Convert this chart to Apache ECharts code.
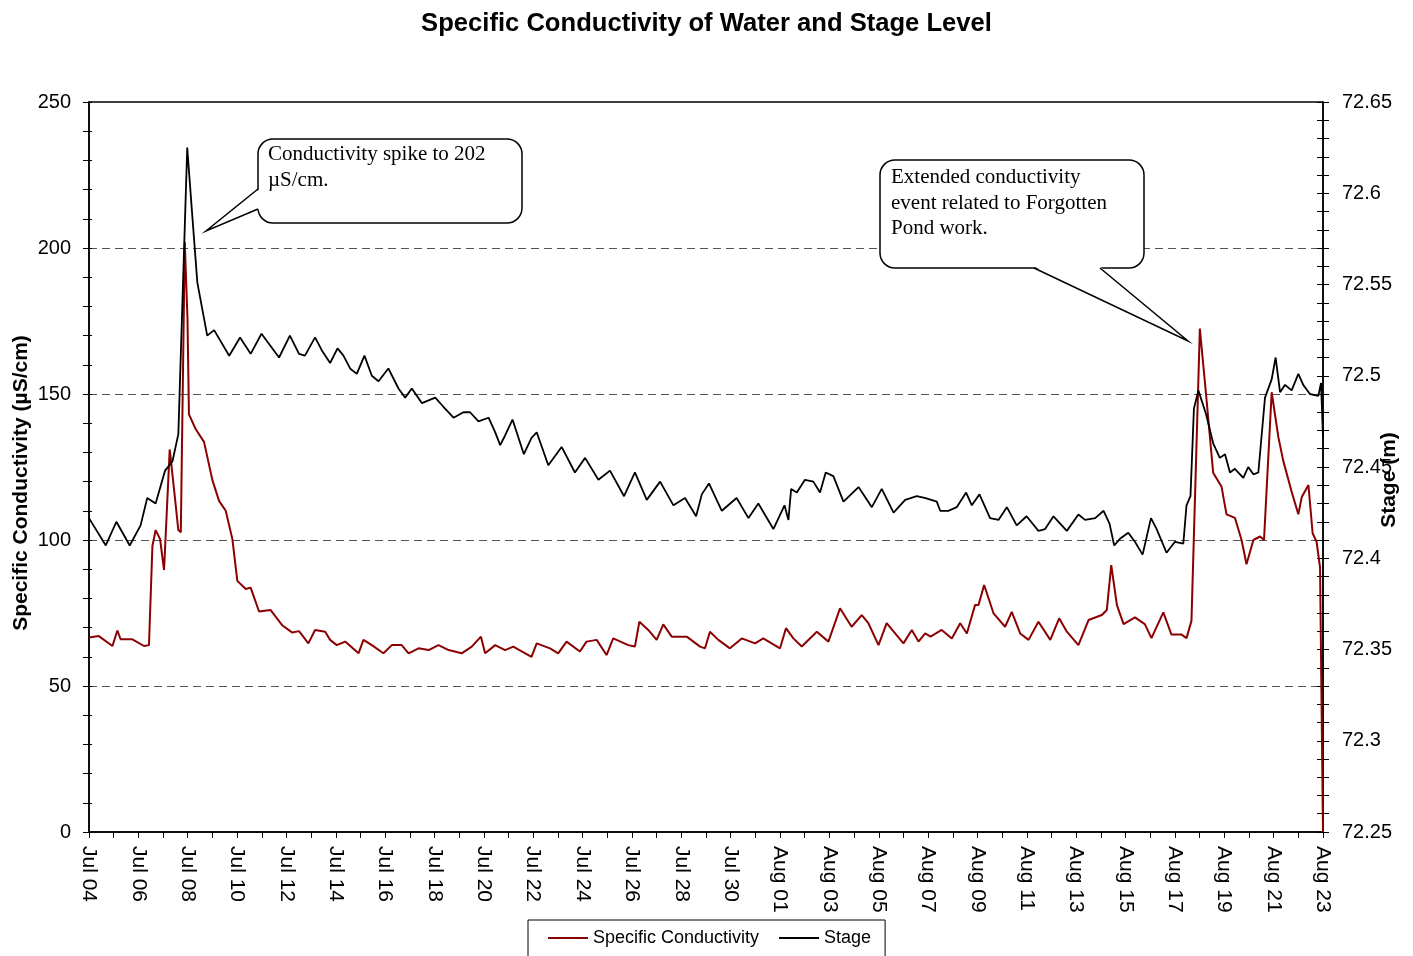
<!DOCTYPE html>
<html>
<head>
<meta charset="utf-8">
<script src="https://cdn.jsdelivr.net/npm/echarts@6/dist/echarts.min.js"></script>
<style>
  html, body { margin: 0; padding: 0; background: #fff; }
  #chart { width: 1413px; height: 956px; }
</style>
</head>
<body>
<div id="chart"></div>
<script>
// days counted from Jul 04 00:00
const condDays = [
  0, 0.4, 0.95, 1.15, 1.28, 1.76, 2.23, 2.43, 2.57, 2.7, 2.88, 3.04, 3.14, 3.27, 3.45, 3.62, 3.72, 3.88,
  3.99, 4.05, 4.32, 4.66, 5.0, 5.27, 5.54, 5.81, 6.01, 6.35, 6.55, 6.89, 7.36, 7.84, 8.24, 8.51,
  8.89, 9.16, 9.57, 9.77, 10.04, 10.38, 10.92, 11.12, 11.46, 11.93, 12.27, 12.67, 12.95, 13.35,
  13.76, 14.16, 14.57, 15.1, 15.51, 15.88, 16.05, 16.46, 16.86, 17.19, 17.93, 18.14, 18.68, 19.01,
  19.35, 19.89, 20.16, 20.57, 20.97, 21.24, 21.85, 22.12, 22.3, 22.66, 23.0, 23.27, 23.61, 24.22,
  24.76, 24.96, 25.16, 25.5, 25.97, 26.45, 26.99, 27.32, 28.0, 28.24, 28.54, 28.88, 29.49, 29.96,
  30.43, 30.9, 31.31, 31.58, 31.99, 32.32, 33.0, 33.34, 33.61, 33.88, 34.1, 34.55, 34.96, 35.3,
  35.57, 35.9, 36.04, 36.27, 36.65, 37.12, 37.39, 37.73, 38.07, 38.47, 38.95, 39.31, 39.62, 40.09,
  40.5, 41.04, 41.24, 41.42, 41.65, 41.92, 42.38, 42.78, 43.05, 43.53, 43.86, 44.27, 44.47, 44.67,
  45.01, 45.26, 45.55, 45.89, 46.09, 46.43, 46.7, 46.9, 47.18, 47.45, 47.61, 47.92, 48.19, 48.39,
  48.73, 49.0, 49.14, 49.41, 49.58, 49.74, 49.88, 50.0
];
const condValues = [
  66.6, 67.1, 63.7, 69, 66, 66, 63.7, 64, 98, 103.4, 100.3, 89.7, 107.5, 131, 117, 103.4, 102.7, 202,
  176, 143, 138, 133.6, 120.5, 113.4, 110, 100.3, 86, 83.2, 83.7, 75.5, 76, 70.7, 68.3, 68.8,
  64.6, 69.2, 68.6, 65.8, 64, 65.2, 61.2, 65.8, 64, 61.2, 64, 64, 61.2, 62.9,
  62.3, 64, 62.3, 61.2, 63.5, 66.9, 61.2, 64, 62.3, 63.5, 60, 64.6, 62.9, 61.2,
  65.2, 61.8, 65.2, 65.8, 60.6, 66.3, 64, 63.5, 72, 69.2, 65.8, 71.1, 66.9, 66.9,
  63.5, 62.9, 68.6, 65.8, 62.9, 66.3, 64.6, 66.3, 62.9, 69.8, 66.3, 63.5, 68.6, 65.2,
  76.6, 70.3, 74.3, 71.5, 64, 71.5, 64.6, 69.2, 65.2, 68, 66.9, 69.2, 66.3, 71.5,
  68, 77.7, 77.7, 84.6, 74.9, 70.3, 75.4, 68, 65.8, 72, 65.8, 73.2, 68.6, 64,
  72.6, 74.3, 76, 91.4, 77.7, 71.2, 73.5, 71.2, 66.4, 75.2, 67.6, 67.6, 66.4, 72.3,
  172.4, 150, 123, 118.2, 108.8, 107.6, 100, 91.7, 100, 101.2, 100, 150.6, 135.3, 127.1,
  116.5, 108.8, 114.7, 118.8, 102.3, 99.4, 90.6, 0
];

const stageDays = [
  0, 0.68, 1.11, 1.65, 2.09, 2.36, 2.7, 3.08, 3.38, 3.62, 3.98, 4.2, 4.39, 4.79, 5.07, 5.68, 6.12, 6.55,
  6.99, 7.7, 8.14, 8.51, 8.75, 9.16, 9.43, 9.77, 10.07, 10.31, 10.58, 10.85, 11.16, 11.46, 11.73, 12.13,
  12.54, 12.81, 13.08, 13.49, 14.03, 14.36, 14.77, 15.17, 15.44, 15.78, 16.19, 16.46, 16.66, 16.85,
  17.16, 17.62, 17.93, 18.14, 18.61, 19.15, 19.69, 20.1, 20.64, 21.11, 21.68, 22.12, 22.6, 23.14,
  23.68, 24.15, 24.6, 24.83, 25.12, 25.64, 26.24, 26.72, 27.12, 27.73, 28.18, 28.34, 28.45, 28.68,
  29.01, 29.35, 29.62, 29.85, 30.16, 30.57, 31.18, 31.72, 32.12, 32.6, 33.07, 33.54, 33.9, 34.35,
  34.49, 34.82, 35.16, 35.54, 35.77, 36.08, 36.51, 36.85, 37.19, 37.59, 37.99, 38.47, 38.74, 39.08,
  39.62, 40.09, 40.36, 40.77, 41.11, 41.35, 41.54, 41.8, 42.11, 42.38, 42.69, 43.03, 43.26, 43.66,
  44.0, 44.34, 44.47, 44.63, 44.77, 44.95, 45.26, 45.55, 45.82, 46.03, 46.23, 46.43, 46.77, 46.97,
  47.18, 47.38, 47.65, 47.92, 48.08, 48.26, 48.46, 48.73, 49.0, 49.2, 49.47, 49.81, 49.92, 50.0
];
const stageValues = [
  72.422, 72.407, 72.420, 72.407, 72.418, 72.433, 72.430, 72.448, 72.453, 72.468, 72.625, 72.585, 72.551, 72.522, 72.525, 72.511, 72.521, 72.512,
  72.523, 72.510, 72.522, 72.512, 72.511, 72.521, 72.514, 72.507, 72.515, 72.511, 72.504, 72.501, 72.511, 72.500, 72.497, 72.504,
  72.493, 72.488, 72.493, 72.485, 72.488, 72.483, 72.477, 72.480, 72.480, 72.475, 72.477, 72.469, 72.462, 72.467,
  72.476, 72.457, 72.466, 72.469, 72.451, 72.461, 72.447, 72.455, 72.443, 72.448, 72.434, 72.447, 72.432, 72.442,
  72.429, 72.433, 72.423, 72.435, 72.441, 72.426, 72.433, 72.422, 72.430, 72.416, 72.429, 72.421, 72.438, 72.436,
  72.443, 72.442, 72.436, 72.447, 72.445, 72.431, 72.439, 72.428, 72.438, 72.425, 72.432, 72.434, 72.433, 72.431,
  72.426, 72.426, 72.428, 72.436, 72.429, 72.435, 72.422, 72.421, 72.428, 72.418, 72.423, 72.415, 72.416, 72.423,
  72.415, 72.424, 72.421, 72.422, 72.426, 72.419, 72.407, 72.411, 72.414, 72.409, 72.402, 72.422, 72.416, 72.403,
  72.409, 72.408, 72.429, 72.434, 72.482, 72.492, 72.479, 72.463, 72.455, 72.457, 72.447, 72.449, 72.444, 72.450,
  72.446, 72.447, 72.488, 72.498, 72.510, 72.491, 72.495, 72.492, 72.501, 72.495, 72.490, 72.489, 72.496, 72.466
];

const seriesNames = ['Specific Conductivity', 'Stage'];
const monthNames = ['Jan', 'Feb', 'Mar', 'Apr', 'May', 'Jun', 'Jul', 'Aug', 'Sep', 'Oct', 'Nov', 'Dec'];

const condData = condDays.map((d, i) => [d, condValues[i]]);
const stageData = stageDays.map((d, i) => [d, stageValues[i]]);

const font = "'Liberation Sans', Arial, sans-serif";
const serif = "'Liberation Serif', 'Times New Roman', serif";

function dayLabel(v) {
  const dt = new Date(2010, 6, 4 + Math.round(v));
  const dd = dt.getDate();
  return monthNames[dt.getMonth()] + ' ' + (dd < 10 ? '0' + dd : dd);
}

// callout = rounded box + wedge tail (white patch hides the box border under the tail)
function callout(box, tail, patch, text, textPos) {
  return [
    {
      type: 'rect', z: 100,
      shape: { x: box[0], y: box[1], width: box[2], height: box[3], r: 15 },
      style: { fill: '#fff', stroke: '#000', lineWidth: 1.5 }
    },
    {
      type: 'polygon', z: 101,
      shape: { points: patch },
      style: { fill: '#fff' }
    },
    {
      type: 'polyline', z: 102,
      shape: { points: tail },
      style: { stroke: '#000', lineWidth: 1.5, fill: null }
    },
    {
      type: 'text', z: 103,
      x: textPos[0], y: textPos[1],
      style: {
        text: text,
        font: '21px ' + serif,
        lineHeight: 25.5,
        fill: '#000',
        verticalAlign: 'top'
      }
    }
  ];
}

const chart = echarts.init(document.getElementById('chart'));

const option = {
  animation: false,
  backgroundColor: '#fff',
  textStyle: { fontFamily: font },
  title: {
    text: 'Specific Conductivity of Water and Stage Level',
    left: 'center',
    top: 6,
    textStyle: { fontSize: 25.6, fontWeight: 'bold', color: '#000', fontFamily: font }
  },
  legend: {
    data: seriesNames,
    left: 528,
    top: 920,
    padding: [9, 14, 24, 20],
    itemGap: 20,
    itemWidth: 40,
    itemHeight: 2,
    icon: 'rect',
    borderColor: '#000',
    borderWidth: 1,
    textStyle: { fontSize: 18, color: '#000', fontFamily: font }
  },
  grid: {
    left: 89,
    right: 90,
    top: 102,
    bottom: 124,
    show: true,
    borderColor: '#000',
    borderWidth: 1.5,
    outerBoundsMode: 'none'
  },
  xAxis: {
    type: 'value',
    min: 0,
    max: 50,
    interval: 2,
    axisLine: { lineStyle: { color: '#000', width: 1.5 } },
    axisTick: { length: 6, lineStyle: { color: '#000' } },
    minorTick: { show: true, splitNumber: 2, length: 6, lineStyle: { color: '#000' } },
    splitLine: { show: false },
    axisLabel: {
      rotate: -90,
      margin: 14,
      fontSize: 21,
      color: '#000',
      fontFamily: font,
      formatter: dayLabel
    }
  },
  yAxis: [
    {
      type: 'value',
      position: 'left',
      min: 0,
      max: 250,
      interval: 50,
      name: 'Specific Conductivity (µS/cm)',
      nameLocation: 'middle',
      nameGap: 57,
      nameMoveOverlap: false,
      nameTextStyle: {
        fontSize: 21, fontWeight: 'bold', color: '#000', fontFamily: font,
        padding: [0, 32, 0, 0]
      },
      axisLine: { show: true, lineStyle: { color: '#000', width: 1.5 } },
      axisTick: { show: true, length: 6, lineStyle: { color: '#000' } },
      minorTick: { show: true, splitNumber: 5, length: 6, lineStyle: { color: '#000' } },
      axisLabel: { margin: 18, fontSize: 20, color: '#000', fontFamily: font },
      splitLine: {
        show: true,
        lineStyle: {
          color: ['rgba(0,0,0,0)', '#555', '#555', '#555', '#555', 'rgba(0,0,0,0)'],
          type: [8, 5],
          width: 1
        }
      }
    },
    {
      type: 'value',
      position: 'right',
      min: 72.25,
      max: 72.65,
      interval: 0.05,
      name: 'Stage (m)',
      nameLocation: 'middle',
      nameGap: 56,
      nameMoveOverlap: false,
      nameTextStyle: {
        fontSize: 21, fontWeight: 'bold', color: '#000', fontFamily: font,
        padding: [0, 26, 0, 0]
      },
      axisLine: { show: true, lineStyle: { color: '#000', width: 1.5 } },
      axisTick: { show: true, length: 6, lineStyle: { color: '#000' } },
      minorTick: { show: true, splitNumber: 5, length: 6, lineStyle: { color: '#000' } },
      axisLabel: {
        margin: 19,
        fontSize: 20,
        color: '#000',
        fontFamily: font,
        formatter: v => String(+v.toFixed(2))
      },
      splitLine: { show: false }
    },
    // inner halves of the crossing ticks
    {
      type: 'value',
      position: 'left',
      min: 0,
      max: 250,
      interval: 50,
      axisLine: { show: false },
      axisTick: { show: true, inside: true, length: 3, lineStyle: { color: '#000' } },
      minorTick: { show: true, splitNumber: 5, length: 3, lineStyle: { color: '#000' } },
      axisLabel: { show: false },
      splitLine: { show: false }
    },
    {
      type: 'value',
      position: 'right',
      min: 72.25,
      max: 72.65,
      interval: 0.05,
      axisLine: { show: false },
      axisTick: { show: true, inside: true, length: 6, lineStyle: { color: '#000' } },
      minorTick: { show: true, splitNumber: 5, length: 6, lineStyle: { color: '#000' } },
      axisLabel: { show: false },
      splitLine: { show: false }
    }
  ],
  series: [
    {
      name: seriesNames[0],
      type: 'line',
      yAxisIndex: 0,
      data: condData,
      symbol: 'none',
      color: '#8b0000',
      lineStyle: { color: '#8b0000', width: 2 }
    },
    {
      name: seriesNames[1],
      type: 'line',
      yAxisIndex: 1,
      data: stageData,
      symbol: 'none',
      color: '#000',
      lineStyle: { color: '#000', width: 1.8 }
    }
  ],
  graphic: [].concat(
    callout([258, 139, 264, 84],
      [[258, 189], [206, 231], [258, 209]],
      [[259.6, 189], [206, 231], [259.6, 209]],
      'Conductivity spike to 202\nµS/cm.', [268, 142]),
    callout([880, 160, 264, 108],
      [[1034, 268], [1188, 341], [1100, 268]],
      [[1034, 266.4], [1188, 341], [1100, 266.4]],
      'Extended conductivity\nevent related to Forgotten\nPond work.', [891, 165])
  )
};

chart.setOption(option);
</script>
</body>
</html>
